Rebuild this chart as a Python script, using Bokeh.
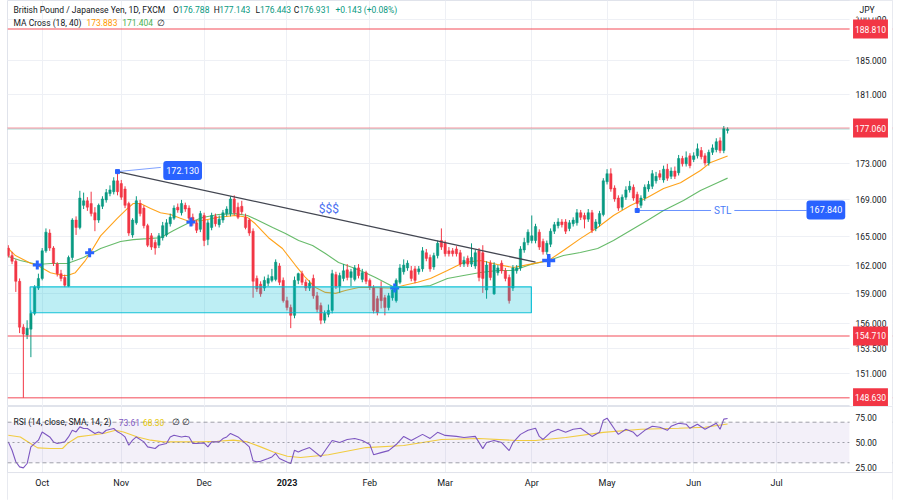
from bokeh.plotting import figure
from bokeh.layouts import column
from bokeh.models import (FixedTicker, Span, Label, BoxAnnotation, ColumnDataSource,
                          Range1d)
from bokeh.embed import file_html
from bokeh.resources import INLINE

# ---------------- data ----------------
opens = [163.8, 163.0, 162.4, 160.3, 155.6, 154.8, 155.4, 157.0, 159.6, 160.6,
         163.5, 165.4, 163.8, 162.1, 161.1, 160.7, 159.8, 162.8, 166.8, 166.0,
         168.4, 168.9, 168.6, 167.6, 166.8, 168.3, 169.0, 169.7, 169.9, 171.1,
         170.8, 170.2, 168.6, 165.2, 166.5, 168.6, 168.1, 166.2, 165.1, 164.4,
         164.1, 164.9, 165.2, 166.4, 167.0, 168.2, 167.6, 168.4, 168.1, 167.1,
         166.5, 165.8, 167.3, 164.7, 166.0, 167.2, 166.3, 166.8, 167.5, 167.5,
         169.1, 168.2, 168.3, 167.1, 166.8, 165.6, 160.6, 160.0, 159.6, 160.1,
         160.4, 160.5, 161.9, 160.4, 158.3, 157.6, 156.8, 160.4, 161.1, 160.2,
         159.6, 160.6, 158.8, 157.8, 156.3, 156.9, 157.3, 161.0, 159.8, 160.6,
         161.5, 160.7, 160.5, 161.7, 160.5, 161.2, 160.4, 159.6, 158.5, 159.6,
         158.6, 157.6, 158.6, 158.3, 160.2, 161.3, 161.7, 161.4, 161.6, 161.3,
         161.6, 163.3, 162.8, 161.8, 163.0, 164.6, 164.3, 163.5, 163.5, 163.7,
         163.3, 162.1, 162.7, 162.1, 161.9, 163.5, 163.3, 159.4, 162.2, 159.0,
         161.2, 162.2, 161.4, 160.7, 159.6, 161.4, 161.7, 163.6, 164.4, 164.6,
         164.6, 165.5, 164.5, 163.4, 164.2, 165.6, 166.2, 166.6, 166.6, 165.9,
         166.4, 166.5, 167.6, 167.3, 166.9, 167.6, 165.9, 166.4, 167.4, 171.0,
         171.9, 170.3, 169.2, 168.2, 169.3, 170.1, 170.4, 169.6, 168.4, 169.2,
         170.2, 170.5, 171.1, 171.9, 171.2, 172.4, 171.6, 172.2, 172.0, 173.6,
         173.0, 173.9, 173.5, 173.9, 174.5, 173.9, 173.1, 174.3, 174.6, 175.6,
         174.5, 176.788]
highs = [164.1, 163.4, 162.6, 160.6, 155.9, 156.3, 157.3, 159.9, 161.1, 163.8,
         165.9, 165.8, 164.0, 162.3, 161.5, 161.0, 163.0, 167.0, 167.2, 170.0,
         169.8, 169.3, 169.9, 168.2, 168.6, 169.4, 170.2, 170.6, 171.5, 172.13,
         171.2, 170.5, 168.8, 167.0, 169.4, 169.0, 168.4, 166.4, 165.4, 164.7,
         165.4, 166.6, 166.9, 167.5, 168.4, 168.6, 169.0, 168.7, 168.4, 167.5,
         166.8, 167.8, 167.6, 166.8, 167.6, 167.5, 167.3, 167.9, 168.3, 169.4,
         169.5, 168.7, 168.9, 167.5, 167.0, 165.9, 160.9, 160.3, 160.8, 161.0,
         161.6, 162.6, 162.2, 160.7, 158.7, 157.9, 160.8, 161.2, 161.4, 160.5,
         160.4, 161.0, 159.2, 158.1, 157.3, 157.9, 161.5, 161.3, 161.2, 162.1,
         162.1, 161.6, 162.0, 162.1, 161.6, 161.4, 160.6, 159.9, 158.8, 160.3,
         158.9, 159.1, 159.7, 160.6, 162.1, 162.6, 162.5, 161.9, 161.9, 161.9,
         163.9, 163.7, 163.1, 163.3, 164.6, 165.9, 164.6, 163.9, 163.8, 164.0,
         163.6, 162.9, 163.0, 164.3, 163.6, 163.8, 164.1, 162.4, 162.5, 162.3,
         162.0, 162.5, 161.7, 161.0, 162.0, 162.0, 164.0, 164.9, 165.8, 167.3,
         166.4, 165.8, 164.8, 164.6, 165.9, 166.6, 167.0, 166.9, 166.9, 166.8,
         167.1, 168.0, 167.9, 167.6, 168.0, 167.9, 166.9, 167.8, 171.4, 172.4,
         172.5, 170.6, 169.5, 169.6, 170.5, 171.1, 170.7, 169.9, 169.5, 170.7,
         171.1, 172.3, 172.1, 172.3, 172.8, 173.0, 172.6, 172.7, 174.0, 173.9,
         174.4, 174.2, 174.3, 175.3, 174.9, 174.2, 174.6, 175.2, 175.9, 176.0,
         177.3, 177.143]
lows = [162.8, 162.1, 159.2, 155.0, 148.63, 154.4, 152.6, 156.8, 159.4, 160.4,
        163.3, 163.5, 161.9, 160.8, 160.3, 159.7, 159.7, 162.5, 165.2, 165.8,
        168.0, 167.8, 167.2, 165.6, 166.5, 168.0, 168.7, 169.4, 169.6, 169.5,
        169.0, 168.1, 165.1, 164.9, 166.3, 167.2, 165.9, 163.9, 163.6, 163.1,
        163.8, 164.6, 165.0, 166.1, 166.8, 167.6, 167.3, 167.7, 166.8, 166.2,
        165.4, 165.5, 164.0, 164.1, 165.7, 166.1, 166.0, 166.5, 167.2, 167.2,
        167.3, 166.9, 167.4, 165.8, 165.1, 158.6, 159.2, 158.7, 159.3, 159.8,
        160.2, 160.3, 159.9, 158.1, 157.3, 155.5, 156.5, 160.0, 159.9, 159.3,
        159.3, 158.5, 157.1, 155.9, 156.0, 156.6, 157.0, 159.5, 159.1, 160.3,
        160.4, 159.8, 160.3, 160.6, 160.2, 160.0, 159.4, 157.0, 156.8, 157.5,
        156.8, 157.3, 158.3, 158.1, 160.0, 161.0, 161.4, 160.3, 160.1, 161.0,
        161.3, 162.4, 161.3, 161.5, 162.7, 163.6, 162.9, 162.9, 162.9, 162.9,
        161.8, 161.8, 161.8, 161.8, 161.6, 160.3, 159.1, 158.5, 160.4, 158.9,
        160.9, 161.1, 160.3, 158.0, 159.3, 161.1, 161.4, 163.3, 164.1, 164.3,
        164.3, 163.6, 163.1, 163.1, 163.9, 165.3, 165.9, 166.0, 165.3, 165.6,
        166.1, 166.2, 166.8, 165.9, 166.6, 165.4, 165.6, 166.1, 167.2, 170.7,
        169.9, 168.8, 167.8, 167.9, 169.0, 169.8, 168.9, 167.84, 168.1, 168.9,
        169.9, 170.2, 170.8, 171.2, 170.9, 171.1, 171.3, 171.3, 171.7, 172.7,
        172.7, 172.5, 173.2, 173.6, 173.5, 172.8, 172.8, 174.0, 174.3, 174.2,
        174.2, 176.443]
closes = [163.0, 162.4, 160.3, 155.6, 154.9, 155.5, 157.0, 159.7, 160.6, 163.5,
          165.5, 163.8, 162.2, 161.1, 160.6, 159.9, 162.8, 166.8, 166.0, 169.2,
          168.9, 168.2, 167.5, 166.8, 168.4, 169.1, 169.8, 170.1, 171.1, 169.9,
          169.3, 168.4, 165.4, 166.8, 168.9, 167.5, 166.2, 164.1, 163.9, 163.8,
          165.1, 166.2, 166.5, 167.1, 168.1, 167.9, 168.6, 168.0, 167.0, 166.5,
          165.7, 167.5, 164.6, 166.5, 167.3, 166.4, 166.9, 167.6, 168.0, 169.1,
          167.6, 167.1, 167.7, 166.0, 165.4, 160.3, 159.5, 159.0, 160.4, 160.6,
          160.8, 162.3, 160.2, 158.3, 157.6, 156.8, 160.4, 161.1, 160.2, 159.6,
          160.1, 158.8, 157.4, 156.3, 157.0, 157.3, 161.1, 159.8, 160.9, 161.4,
          160.7, 161.3, 161.7, 160.9, 161.2, 160.3, 159.7, 157.3, 157.1, 158.3,
          157.6, 158.8, 159.4, 160.4, 161.7, 162.0, 162.2, 160.6, 160.4, 161.6,
          163.5, 162.7, 161.6, 163.0, 164.3, 163.9, 163.2, 163.2, 163.2, 163.2,
          162.1, 162.5, 162.1, 162.8, 163.3, 160.7, 160.6, 162.0, 160.7, 162.0,
          161.7, 161.4, 160.6, 158.3, 161.7, 161.7, 163.7, 164.4, 165.5, 165.1,
          166.1, 163.9, 163.4, 164.3, 165.6, 166.3, 166.6, 166.3, 165.6, 166.5,
          166.8, 167.6, 167.1, 166.9, 167.6, 165.7, 166.6, 167.5, 171.1, 171.9,
          170.2, 169.1, 168.1, 169.3, 170.1, 170.5, 169.2, 168.6, 169.2, 170.4,
          170.7, 171.9, 171.6, 171.5, 172.4, 171.4, 172.2, 171.6, 173.6, 173.0,
          173.7, 172.8, 173.9, 174.7, 173.8, 173.1, 174.3, 174.8, 175.5, 174.5,
          177.0, 176.931]

# MA Cross (18, 40) lines, read at bar positions
ma_fast_idx = [0, 1.9, 5.9, 7.8, 11.2, 14.4, 15.7, 17.8, 20.5, 21.8, 24.5, 27.1, 29, 31.6,
               33.2, 35.1, 37.8, 40.4, 43.1, 45.7, 48.1, 51.6, 55.8, 60.3, 63.5, 65.6,
               69.1, 72.8, 76.3, 78.9, 81.6, 84.2, 86.9, 89.5, 93, 96.7, 100.7, 102.6,
               104.9, 108.7, 112.1, 116.6, 120.9, 125.4, 129.9, 134.1, 138.7, 143.5,
               147.4, 151.9, 156.5, 160.7, 165.2, 169.7, 174, 178.5, 183.8, 186.5, 191]
ma_fast_val = [163.75, 163.0, 162.2, 161.95, 161.2, 160.9, 160.9, 161.2, 162.5, 163.3,
               165.1, 166.2, 167.0, 168.05, 168.6, 168.6, 168.05, 167.6, 167.4, 167.0,
               166.65, 166.76, 167.1, 167.3, 167.1, 166.4, 164.9, 163.75, 161.95, 160.7,
               159.65, 159.15, 159.05, 159.35, 159.65, 159.65, 159.6, 159.6, 159.87,
               160.2, 160.6, 161.43, 162.27, 162.48, 162.06, 161.75, 162.1, 162.48,
               163.54, 164.8, 166.0, 167.3, 168.38, 169.26, 170.25, 170.9, 172.26,
               173.16, 173.883]
ma_slow_idx = [0, 3.2, 7.8, 11.2, 15.7, 20, 24.5, 29.8, 33.2, 37, 40.4, 43.9, 46.5, 48.1,
               51.6, 55.8, 60.3, 63.5, 66.4, 70.2, 73.6, 77.1, 80.8, 84.2, 87.7, 91.4,
               94.8, 97.5, 102.6, 106.8, 112.1, 116.6, 120.9, 125.4, 129.9, 134.1, 138.7,
               143.5, 147.4, 151.9, 156.5, 160.7, 165.2, 169.7, 174, 179.3, 183.8, 188.3, 191]
ma_slow_val = [162.9, 162.48, 162.06, 162.16, 162.16, 162.8, 163.75, 164.5, 164.7, 164.8,
               164.9, 165.68, 166.22, 166.54, 167.08, 167.4, 167.5, 167.3, 166.76, 166.0,
               165.35, 164.6, 164.07, 163.22, 162.27, 161.75, 161.2, 160.7, 159.65,
               159.65, 159.87, 160.6, 160.91, 161.22, 161.43, 161.43, 162.06, 162.48,
               163.0, 163.33, 163.75, 164.6, 165.68, 166.76, 167.84, 168.93, 170.03,
               170.9, 171.404]
cross_idx = [7.7, 21.6, 48.5, 102.6, 143.5]
cross_val = [162.0, 163.3, 166.6, 159.6, 162.48]

# RSI (14) and its SMA (14)
rsi_idx = [0, 1, 2, 3, 4, 5, 6, 8, 9, 11, 12, 13, 15, 16, 17, 18, 19, 20, 21, 23, 24, 25,
           26, 28, 29, 30, 31, 32, 33, 34, 36, 37, 39, 40, 42, 43, 44, 46, 47, 48, 49, 50,
           52, 53, 54, 56, 57, 58, 59, 60, 61, 62, 64, 65, 66, 67, 69, 70, 71, 72, 74, 75,
           76, 77, 78, 80, 83, 86, 88, 90, 92, 94, 96, 97, 99, 101, 103, 105, 107, 110,
           112, 114, 116, 119, 121, 124, 126, 127, 129, 131, 133, 134, 136, 138, 140, 141,
           142, 144, 146, 148, 150, 152, 155, 157, 158, 159, 161, 162, 164, 166, 167, 169,
           171, 173, 175, 176, 178, 180, 181, 183, 185, 187, 188, 189, 190, 191]
rsi_val = [50.6, 42.4, 31, 26, 25, 29.3, 45.7, 52.3, 60.4, 55.5, 50.6, 49, 50.6, 55.5,
           62.1, 60.4, 65.4, 63.8, 63.8, 58.9, 60.4, 58.9, 62.1, 63.8, 60.5, 58.5, 55.5,
           47.3, 52.3, 55.5, 50.6, 45.7, 44.1, 47.3, 49, 55.5, 57.2, 55.5, 56.2, 55.5, 49,
           49, 49.6, 45.7, 50.6, 50.6, 53.9, 55.5, 58.9, 57.2, 55.5, 52.3, 45.7, 32, 30.9,
           31.5, 34.2, 35.8, 39.2, 34.2, 30.9, 29.3, 42.4, 40.7, 42.4, 45, 36, 52, 50, 53,
           54, 52, 48, 38, 40, 42, 48, 56, 52, 58, 54, 60, 57, 56, 55, 56, 44, 50, 52, 50,
           42, 50, 58, 62, 64, 56, 53, 60, 63, 60, 63, 64, 56, 60, 72, 74, 63, 58, 63, 60,
           56, 62, 66, 65, 62, 66, 69, 68, 64, 68, 63, 67, 69, 63, 73, 73.61]
rsi_sma_idx = [0, 3.2, 5.9, 7.8, 11.2, 14.4, 15.7, 18.4, 21.8, 25.3, 28.5, 30.6, 34.3, 37.8,
               41.2, 46.5, 51, 55.5, 59.8, 63.5, 67, 70.4, 74.1, 77.6, 85, 95, 105, 115,
               125, 135, 140, 148, 158, 168, 178, 185, 191]
rsi_sma_val = [57.2, 55.5, 49, 44.7, 44.1, 44.1, 49, 55.5, 57.2, 58.9, 62.1, 60.4, 55.5,
               52.3, 50.6, 50.6, 50.6, 51.3, 52.3, 50.6, 45.7, 40.7, 36.5, 35.2, 38, 45, 47,
               53, 54, 52, 52, 55, 60, 63, 64, 65, 68.3]

# axes
month_idx = [9, 30, 52, 74, 96, 116, 139, 159, 182, 204]
month_lbl = ["Oct", "Nov", "Dec", "2023", "Feb", "Mar", "Apr", "May", "Jun", "Jul"]
price_ticks = [151, 153.5, 156, 159, 162, 165, 169, 173, 177, 181, 185, 190]
rsi_ticks = [25, 50, 75]

# drawings
key_levels = [188.81, 154.71, 148.63]
dotted_level = 177.06
zone = dict(left=5.8, right=138.9, top=159.73, bottom=157.06)
trend_x = [29, 140]
trend_y = [172.13, 162.3]
stl_price = 167.84
stl_x = [167, 212]

# ---------------- styling / layout constants ----------------
UP, DOWN = "#089981", "#f23645"
TXT = "#131722"
FONT = "Roboto"
GRID = "#eef0f5"
BORDER = "#e0e3eb"
BLUE = "#2962ff"
FRAME_L, FRAME_W = 7, 885          # frame covers the pane and the price scale
X0, X1 = -0.21, 234.79             # bar range across the whole frame
PANE_R = 223.4                     # bar value where the price scale starts
MAIN_H, RSI_H = 406, 94
HS = "8.5px"                       # legend font size

bars = list(range(len(closes)))
src = ColumnDataSource(dict(
    x=bars, h=highs, l=lows,
    top=[max(o, c) for o, c in zip(opens, closes)],
    bot=[min(o, c) for o, c in zip(opens, closes)],
    col=[UP if c >= o else DOWN for o, c in zip(opens, closes)]))


def make_fig(h, yr, ytype="linear"):
    f = figure(frame_width=FRAME_W, frame_height=h, y_axis_type=ytype,
               x_range=Range1d(X0, X1), y_range=yr,
               x_axis_location=None, y_axis_location=None,
               min_border_left=FRAME_L, min_border_right=900 - FRAME_L - FRAME_W,
               min_border_top=0, min_border_bottom=0,
               output_backend="svg", toolbar_location=None,
               background_fill_color="white", border_fill_color="white")
    f.outline_line_color = BORDER
    return f


def lab(fig, text, x, y, color=TXT, xu="screen", yu="data", size="8.5px",
        align="left", **kw):
    fig.add_layout(Label(x=x, y=y, x_units=xu, y_units=yu, text=text, text_color=color,
                         text_font=FONT, text_font_size=size, text_align=align,
                         text_baseline="middle", **kw))


# ---------------- main pane ----------------
p = make_fig(MAIN_H, Range1d(147.79, 192.35), "log")
p.ygrid.ticker = FixedTicker(ticks=price_ticks)
p.xgrid.ticker = FixedTicker(ticks=month_idx)
p.grid.grid_line_color = GRID

p.add_layout(BoxAnnotation(left=zone["left"], right=zone["right"], top=zone["top"],
                           bottom=zone["bottom"], fill_color="#00bcd4", fill_alpha=0.26,
                           line_color="#00bcd4", line_width=1.2, line_alpha=0.9))
for lv in key_levels:
    p.add_layout(Span(location=lv, dimension="width", line_color="#f23645",
                      line_width=1.5, line_alpha=0.6))
p.add_layout(Span(location=dotted_level, dimension="width", line_color="#f23645",
                  line_width=1.5, line_alpha=0.7, line_dash="1 1"))
p.add_layout(Span(location=closes[-1], dimension="width", line_color=UP,
                  line_width=1, line_alpha=0.5, line_dash="1 1"))

p.line(ma_slow_idx, ma_slow_val, line_color="#4caf50", line_width=1.1, line_alpha=0.85)
p.line(ma_fast_idx, ma_fast_val, line_color="#ff9800", line_width=1.1, line_alpha=0.9)

p.segment(x0="x", y0="h", x1="x", y1="l", color="col", line_width=1, source=src)
p.vbar(x="x", top="top", bottom="bot", width=0.62, fill_color="col", line_color="col",
       line_width=0.5, source=src)

p.line(trend_x, trend_y, line_color="#434651", line_width=1.3)
p.line([29, 40.5], [172.13, 172.6], line_color=BLUE, line_alpha=0.6, line_width=1)
p.line(stl_x, [stl_price, stl_price], line_color=BLUE, line_alpha=0.7, line_width=1)
p.scatter([29, 167], [172.13, stl_price], marker="square", size=4, color=BLUE)
p.scatter(cross_idx, cross_val, marker="cross", size=9, line_width=3, color=BLUE)
p.scatter([cross_idx[-1]], [cross_val[-1]], marker="cross", size=13, line_width=3.5,
          color=BLUE)

lab(p, "$$$", 85.1, 168.0, "#4a6ff0", xu="data", size="12px", align="center")
lab(p, "STL", 189.7, stl_price, "#4a7cf7", xu="data", size="10px", align="center",
    background_fill_color="white", padding=3)
lab(p, "172.130", 46.3, 172.26, "white", xu="data", size="9px", align="center",
    background_fill_color=BLUE, padding=(3, 6), border_radius=3)
lab(p, "167.840", 217.1, 167.9, "white", xu="data", size="9px", align="center",
    background_fill_color=BLUE, padding=(3, 6), border_radius=3)

# price scale (right)
p.add_layout(BoxAnnotation(left=PANE_R, fill_color="white", fill_alpha=1,
                           line_color=None))
for t in price_ticks:
    lab(p, f"{t:.3f}", 848, t)
lab(p, "JPY", 850, MAIN_H - 9, yu="screen", background_fill_color="white",
    padding=(2, 3))
for lv in key_levels + [dotted_level]:
    lab(p, f"{lv:.3f}", 863, lv, "white", align="center",
        background_fill_color="#f23645", padding=(2, 6))

# legend texts
HDR_Y1, HDR_Y2 = MAIN_H - 9, MAIN_H - 22
lab(p, "British Pound / Japanese Yen, 1D, FXCM", 6, HDR_Y1, yu="screen", size=HS)
for px, letter, val in [(172.5, "O", "176.788"), (213.3, "H", "177.143"),
                        (255, "L", "176.443"), (293.3, "C", "176.931")]:
    lab(p, letter, px - FRAME_L, HDR_Y1, yu="screen", size=HS)
    lab(p, val, px - FRAME_L + (5.5 if letter != "L" else 4.6), HDR_Y1, UP,
        yu="screen", size=HS)
lab(p, "+0.143 (+0.08%)", 335 - FRAME_L, HDR_Y1, UP, yu="screen", size=HS)
lab(p, "MA Cross (18, 40)", 6, HDR_Y2, yu="screen", size=HS)
lab(p, "173.883", 86 - FRAME_L, HDR_Y2, "#ff9800", yu="screen", size=HS)
lab(p, "171.404", 121.7 - FRAME_L, HDR_Y2, "#4caf50", yu="screen", size=HS)
lab(p, "\u2205", 156 - FRAME_L, HDR_Y2, yu="screen", size=HS)

# ---------------- RSI pane (incl. time scale below) ----------------
RSI_SEP = 20.4                      # RSI value at the pane / time-scale border
r = make_fig(RSI_H, Range1d(-7.14, 85.47))
r.ygrid.grid_line_color = None
r.xgrid.ticker = FixedTicker(ticks=month_idx)
r.xgrid.grid_line_color = GRID

r.add_layout(BoxAnnotation(bottom=30, top=70, right=PANE_R, fill_color="#7e57c2",
                           fill_alpha=0.09, line_color=None))
for lv, dash in [(70, "4 3"), (50, "2 3"), (30, "4 3")]:
    r.add_layout(Span(location=lv, dimension="width", line_color="#787b86",
                      line_width=1, line_alpha=0.7, line_dash=dash))
r.line(rsi_sma_idx, rsi_sma_val, line_color="#fdd835", line_width=1.1)
r.line(rsi_idx, rsi_val, line_color="#7e57c2", line_width=1.1)

r.add_layout(BoxAnnotation(left=PANE_R, fill_color="white", fill_alpha=1, line_color=None))
r.add_layout(BoxAnnotation(top=RSI_SEP, fill_color="white", fill_alpha=1, line_color=None))
r.add_layout(Span(location=RSI_SEP, dimension="width", line_color=BORDER, line_width=1))
for t in rsi_ticks:
    lab(r, f"{t:.2f}", 848, t)
for m, l in zip(month_idx, month_lbl):
    lab(r, l, m, 18, xu="data", yu="screen", align="center", size="9px",
        text_font_style="bold" if l.isdigit() else "normal")

RSI_Y = RSI_H - (421.5 - MAIN_H)
lab(r, "RSI (14, close, SMA, 14, 2)", 6, RSI_Y, yu="screen", size=HS)
lab(r, "73.61", 118.3 - FRAME_L, RSI_Y, "#7e57c2", yu="screen", size=HS)
lab(r, "68.30", 142.5 - FRAME_L, RSI_Y, "#e6c700", yu="screen", size=HS)
lab(r, "\u2205   \u2205", 171 - FRAME_L, RSI_Y, yu="screen", size=HS)

layout = column(p, r)
open("out.html", "w").write(file_html(layout, INLINE))
